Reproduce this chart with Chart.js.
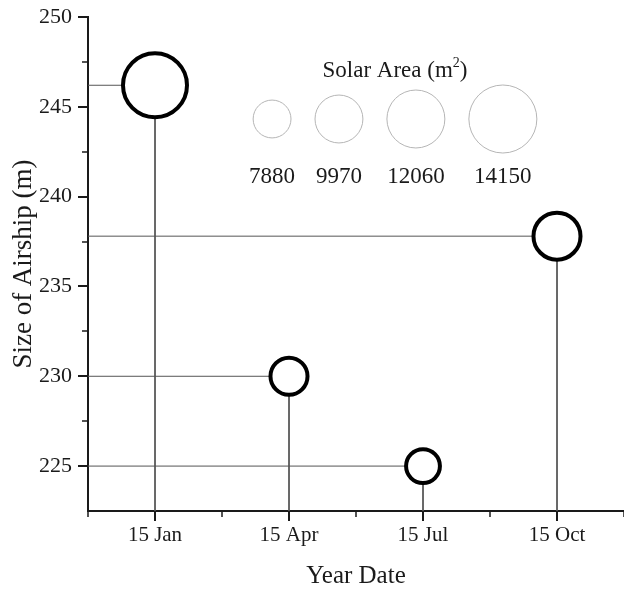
<!DOCTYPE html>
<html>
<head>
<meta charset="utf-8">
<title>Size of Airship</title>
<script src="https://cdn.jsdelivr.net/npm/chart.js@4.4.1/dist/chart.umd.min.js"></script>
<style>
    html, body { margin: 0; padding: 0; background: #fff; }
    canvas { display: block; }
</style>
</head>
<body>
<canvas id="airshipChart" width="624" height="592"></canvas>
<script>
// data
const dates = ['15 Jan', '15 Apr', '15 Jul', '15 Oct'];
const airshipSize = [246.2, 230.0, 225.0, 237.8];
const solarArea = [14150, 8540, 7880, 10620];
const legendAreas = [7880, 9970, 12060, 14150];
const yLabels = [225, 230, 235, 240, 245, 250];

const yMin = 222.5;
const yMax = 250;
const xMin = -0.5;
const xMax = dates.length - 0.5;

const INK = '#1a1a1a';
const FONT = "'Liberation Serif', 'Times New Roman', serif";
const BUBBLE_BORDER = 4;

// bubble size is linear in solar area (largest legend bubble ~34px radius)
function sizeOf(area) {
    return area * 34 / 14150;
}

const bubbleData = dates.map((d, i) => ({
    x: i,
    y: airshipSize[i],
    r: sizeOf(solarArea[i]) - BUBBLE_BORDER / 2
}));

// L-shaped drop lines: from the y axis to the bubble, then down to the x axis
const stemSets = dates.map((d, i) => ({
    type: 'line',
    data: [
        { x: xMin, y: airshipSize[i] },
        { x: i, y: airshipSize[i] },
        { x: i, y: yMin }
    ],
    borderColor: '#555',
    borderWidth: 1,
    pointRadius: 0,
    tension: 0,
    fill: false,
    order: 1
}));

// major/minor tick marks pointing outward
const tickMarks = {
    id: 'tickMarks',
    afterDraw(chart) {
        const { ctx, chartArea, scales } = chart;
        const x = scales.x, y = scales.y;
        ctx.save();
        ctx.strokeStyle = INK;
        y.ticks.forEach(t => {
            if (t.value <= yMin + 1e-6) return;
            const major = yLabels.some(l => Math.abs(l - t.value) < 1e-6);
            const py = Math.round(y.getPixelForValue(t.value));
            ctx.lineWidth = major ? 2 : 1.5;
            ctx.beginPath();
            ctx.moveTo(chartArea.left - (major ? 10 : 6), py);
            ctx.lineTo(chartArea.left, py);
            ctx.stroke();
        });
        x.ticks.forEach(t => {
            const major = Number.isInteger(t.value);
            const px = Math.round(x.getPixelForValue(t.value));
            ctx.lineWidth = major ? 2 : 1.5;
            ctx.beginPath();
            ctx.moveTo(px, chartArea.bottom);
            ctx.lineTo(px, chartArea.bottom + (major ? 10 : 6));
            ctx.stroke();
        });
        ctx.restore();
    }
};

// size legend: "Solar Area (m²)" with reference circles
const sizeLegend = {
    id: 'sizeLegend',
    afterDraw(chart) {
        const ctx = chart.ctx;
        const centerX = 395;
        const circleY = 119;
        const gap = 24;
        const radii = legendAreas.map(sizeOf);
        const total = radii.reduce((s, r) => s + 2 * r, 0) + gap * (radii.length - 1);
        ctx.save();

        ctx.fillStyle = INK;
        ctx.textBaseline = 'middle';
        const t1 = 'Solar Area (m';
        const t2 = ')';
        ctx.font = '14px ' + FONT;
        const wSup = ctx.measureText('2').width;
        ctx.font = '23px ' + FONT;
        const w1 = ctx.measureText(t1).width;
        const w2 = ctx.measureText(t2).width;
        const tx = centerX - (w1 + wSup + w2) / 2;
        ctx.textAlign = 'left';
        ctx.fillText(t1, tx, 71);
        ctx.font = '14px ' + FONT;
        ctx.fillText('2', tx + w1, 63);
        ctx.font = '23px ' + FONT;
        ctx.fillText(t2, tx + w1 + wSup, 71);

        let left = centerX - total / 2;
        ctx.strokeStyle = '#b5b5b5';
        ctx.lineWidth = 1;
        ctx.textAlign = 'center';
        radii.forEach((r, i) => {
            const cx = left + r;
            ctx.beginPath();
            ctx.arc(cx, circleY, r, 0, Math.PI * 2);
            ctx.stroke();
            ctx.fillText(String(legendAreas[i]), cx, 177);
            left = cx + r + gap;
        });
        ctx.restore();
    }
};

Chart.defaults.font.family = FONT;
Chart.defaults.color = INK;

new Chart(document.getElementById('airshipChart'), {
    type: 'bubble',
    data: {
        datasets: [{
            label: 'Solar Area',
            data: bubbleData,
            backgroundColor: '#ffffff',
            borderColor: '#000000',
            borderWidth: BUBBLE_BORDER,
            order: 0,
            clip: false
        }, ...stemSets]
    },
    options: {
        responsive: false,
        animation: false,
        events: [],
        layout: {
            autoPadding: false,
            padding: { top: 17, right: 0, bottom: 0, left: 0 }
        },
        plugins: {
            legend: { display: false },
            tooltip: { enabled: false }
        },
        scales: {
            x: {
                type: 'linear',
                min: xMin,
                max: xMax,
                // ticks are drawn by the plugin; tickLength only sets the label offset
                grid: { display: false, drawTicks: true, tickLength: 12 },
                border: { display: true, color: INK, width: 2 },
                ticks: {
                    stepSize: 0.5,
                    autoSkip: false,
                    maxRotation: 0,
                    padding: 0,
                    font: { size: 21 },
                    callback: v => Number.isInteger(v) ? dates[v] : ''
                },
                title: {
                    display: true,
                    text: 'Year Date',
                    font: { size: 25, lineHeight: 1.2 },
                    padding: { top: 0, bottom: 1 }
                },
                afterFit: scale => { scale.height = 81; }
            },
            y: {
                type: 'linear',
                min: yMin,
                max: yMax,
                grid: { display: false, drawTicks: true, tickLength: 16 },
                border: { display: true, color: INK, width: 2 },
                ticks: {
                    stepSize: 2.5,
                    autoSkip: false,
                    padding: 0,
                    font: { size: 22 },
                    callback: v => yLabels.some(l => Math.abs(l - v) < 1e-6) ? v : ''
                },
                title: {
                    display: true,
                    text: 'Size of Airship (m)',
                    font: { size: 27, lineHeight: 1.2 },
                    padding: { top: 8, bottom: 0 }
                },
                afterFit: scale => { scale.width = 88; }
            }
        }
    },
    plugins: [tickMarks, sizeLegend]
});
</script>
</body>
</html>
